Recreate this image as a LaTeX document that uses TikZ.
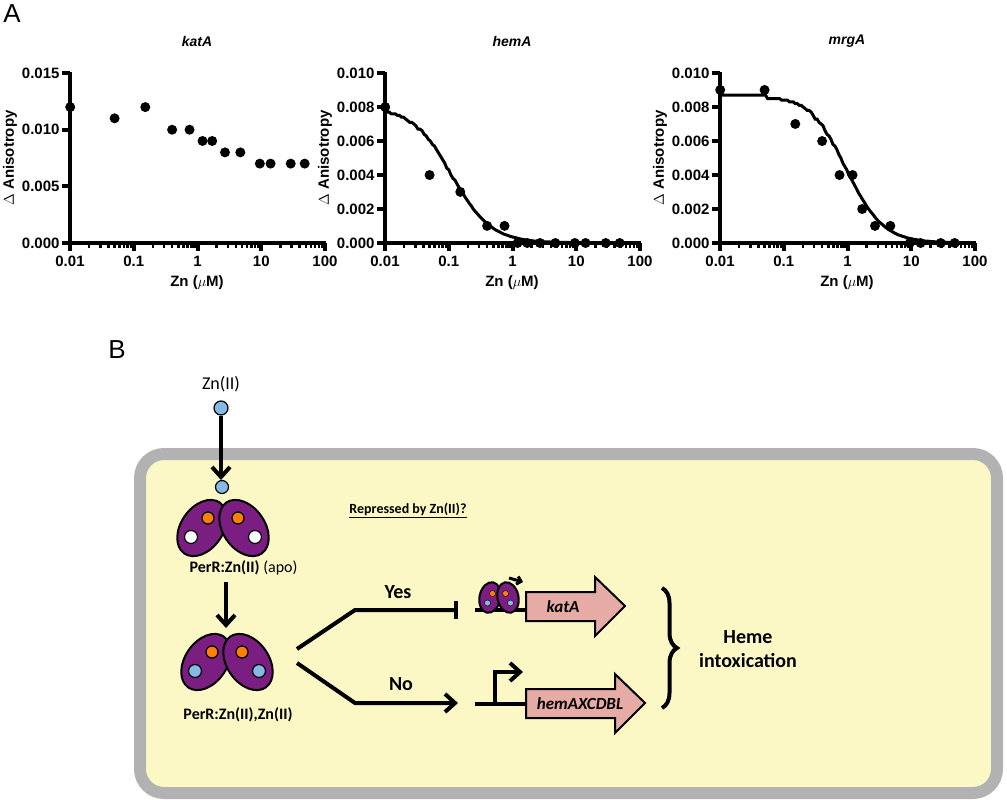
\documentclass[tikz,border=0pt]{standalone}
\usepackage{fontspec}
\setmainfont{Carlito}
\setsansfont{Liberation Sans}
\usetikzlibrary{arrows.meta,decorations.pathreplacing}
\definecolor{zblue}{HTML}{86B9E6}
\definecolor{pur}{HTML}{7A1E82}
\definecolor{cellY}{HTML}{FBF8C6}
\definecolor{gpink}{HTML}{E7ABA6}
\begin{document}
\begin{tikzpicture}[x=1pt,y=-1pt,
 ax/.style={line width=4pt},
 dot/.style={circle,fill=black,inner sep=0pt,minimum size=10pt},
 tick/.style={font=\sffamily\bfseries\fontsize{15}{17}\selectfont},
 lob/.style={draw=black,fill=pur,line width=2pt},
 gtext/.style={font=\bfseries\itshape\fontsize{17}{19}\selectfont},
 arr/.style={line width=4pt,-{Straight Barb[length=10pt,width=18pt]}},
 lbl/.style={font=\bfseries\fontsize{16}{18}\selectfont}]
\useasboundingbox (0,0) rectangle (1007,800);
\node[font=\sffamily\fontsize{26}{28}\selectfont] (A) at (12,14) {A};
\node[font=\sffamily\fontsize{26}{28}\selectfont] (B) at (117,350) {B};
\foreach \x/\ttl/\ymax/\yl in {70/katA/0.015/{0.000,0.005,0.010,0.015},385/hemA/0.010/{0.000,0.002,0.004,0.006,0.008,0.010},720/mrgA/0.010/{0.000,0.002,0.004,0.006,0.008,0.010}}{
 \begin{scope}[shift={(\x,0)}]
 \draw[ax] (0,72) -- (0,243) -- (256,243);
 \foreach \d in {0,1,2,3,4}{\draw[ax] (\d*63.75,243)--(\d*63.75,251);
   \foreach \m in {2,...,9}{\ifnum\d<4 \draw[line width=2.5pt] ({(\d+log10(\m))*63.75},243)--({(\d+log10(\m))*63.75},248);\fi}}
 \foreach \t/\lab in {0/0.01,1/0.1,2/1,3/10,4/100}{\node[tick] at (\t*63.75,261) {\lab};}
 \node[font=\sffamily\bfseries\itshape\fontsize{14}{16}\selectfont] at (127,41) {\ttl};
 \node[font=\sffamily\bfseries\fontsize{15}{17}\selectfont] at (127,283) {Zn ($\mu$M)};
 \node[font=\sffamily\bfseries\fontsize{15}{17}\selectfont,rotate=90] at (-60,158) {$\Delta$ Anisotropy};
 \foreach \v [count=\i from 0] in \yl {\pgfmathsetmacro\yy{243-170*\v/\ymax}
   \draw[ax] (0,\yy)--(-8,\yy); \node[tick,anchor=east] at (-7,\yy) {\v};}
 \end{scope}}
\begin{scope}[shift={(70,0)}]
\foreach \c/\v in {0.01/0.012,0.05/0.011,0.15/0.012,0.4/0.010,0.75/0.010,1.2/0.009,1.7/0.009,2.7/0.008,4.7/0.008,9.5/0.007,14/0.007,29/0.007,48/0.007}
 \node[dot] at ({(log10(\c)+2)*63.75},{243-170*\v/0.015}) {};
\end{scope}
\begin{scope}[shift={(385,0)}]
\draw[line width=3pt] plot[domain=-2:1.2,samples=100] ({(\x+2)*63.75},{243-170*(0.0081/(1+10^(1.4*(\x-log10(0.11)))))/0.010}) -- (223,243);
\foreach \c/\v in {0.01/0.008,0.05/0.004,0.15/0.003,0.4/0.001,0.75/0.001,1.2/0,1.7/0,2.7/0,4.7/0,9.5/0,14/0,29/0,48/0}
 \node[dot] at ({(log10(\c)+2)*63.75},{243-170*\v/0.010}) {};
\end{scope}
\begin{scope}[shift={(720,0)}]
\draw[line width=3pt] plot[domain=-2:1.7,samples=120] ({(\x+2)*63.75},{243-170*(0.0088/(1+10^(1.5*(\x-log10(0.95)))))/0.010});
\foreach \c/\v in {0.01/0.009,0.05/0.009,0.15/0.007,0.4/0.006,0.75/0.004,1.2/0.004,1.7/0.002,2.7/0.001,4.7/0.001,9.5/0,14/0,29/0,48/0}
 \node[dot] at ({(log10(\c)+2)*63.75},{243-170*\v/0.010}) {};
\end{scope}
% Panel B
\draw[line width=12pt,draw=gray!60,fill=cellY,rounded corners=24pt] (140,454) rectangle (997,793);
\node[font=\fontsize{18}{20}\selectfont] (zn) at (221,384) {Zn(II)};
\node[circle,draw=black,line width=1.2pt,fill=zblue,inner sep=0pt,minimum size=14pt] (zd) at (221,408) {};
\node[circle,draw=black,line width=1.2pt,fill=zblue,inner sep=0pt,minimum size=13pt] (zd2) at (222,487) {};
\draw[arr] (zd) -- (221,480);
\begin{scope}[shift={(223,526)}]
 \draw[lob] (-21,2) ellipse [x radius=21,y radius=31,rotate=-35];
 \draw[lob] (21,2) ellipse [x radius=21,y radius=31,rotate=35];
 \foreach \s in {-1,1}{\fill[orange,draw=black,line width=1.2pt] (\s*15,-8) circle (6); \fill[white,draw=black,line width=1.2pt] (\s*32,11) circle (6.5);}
\end{scope}
\node[lbl,anchor=west] (apo) at (186,568) {PerR:Zn(II) \textmd{(apo)}};
\draw[arr] (226,582) -- (226,628);
\begin{scope}[shift={(227,660)}]
 \draw[lob] (-21,2) ellipse [x radius=21,y radius=31,rotate=-35];
 \draw[lob] (21,2) ellipse [x radius=21,y radius=31,rotate=35];
 \foreach \s in {-1,1}{\fill[orange,draw=black,line width=1.2pt] (\s*15,-8) circle (6); \fill[zblue,draw=black,line width=1.2pt] (\s*32,11) circle (6.5);}
\end{scope}
\node[lbl] (zz) at (238,715) {PerR:Zn(II),Zn(II)};
\node[font=\bfseries\fontsize{14}{16}\selectfont] (rep) at (408,510) {\underline{Repressed by Zn(II)?}};
\coordinate (y0) at (297,649); \coordinate (y1) at (355,610);
\coordinate (n0) at (297,663); \coordinate (n1) at (355,703);
\draw[line width=4pt,-{Bar[width=18pt]}] (y0) -- (y1) -- (458,610);
\draw[arr] (n0) -- (n1) -- (458,703);
\node[font=\bfseries\fontsize{20}{22}\selectfont] (yes) at (398,592) {Yes};
\node[font=\bfseries\fontsize{20}{22}\selectfont] (no) at (401,684) {No};
\draw[line width=2pt,fill=gpink] (526,592) -- (595,592) -- (595,577) -- (625,606) -- (595,636) -- (595,621) -- (526,621) -- cycle;
\node[gtext] (kat) at (563,607) {katA};
\draw[line width=4pt] (475,610) -- (526,610);
\begin{scope}[shift={(499,597)},scale=0.5]
 \draw[lob] (-18,1) ellipse [x radius=21,y radius=31,rotate=-12];
 \draw[lob] (18,1) ellipse [x radius=21,y radius=31,rotate=12];
 \foreach \s in {-1,1}{\fill[orange,draw=black] (\s*13,-7) circle (6); \fill[zblue,draw=black] (\s*23,12) circle (6);}
\end{scope}
\draw[line width=3pt,-{Straight Barb[length=4pt,width=8pt]}] (509,578) -- (523,582);
\draw[line width=2pt,fill=gpink] (526,689) -- (615,689) -- (615,674) -- (645,703) -- (615,733) -- (615,718) -- (526,718) -- cycle;
\node[gtext] (hem) at (580,704) {hemAXCDBL};
\draw[line width=4pt] (475,704) -- (526,704);
\draw[line width=4pt,-{Straight Barb[length=10pt,width=18pt]}] (495,704) -- (495,672) -- (523,672);
\draw[line width=4pt,decorate,decoration={brace,amplitude=15pt}] (662,588) -- (662,708);
\node[font=\bfseries\fontsize{20}{24}\selectfont,align=center] (heme) at (748,649) {Heme\\intoxication};
\end{tikzpicture}
\end{document}
